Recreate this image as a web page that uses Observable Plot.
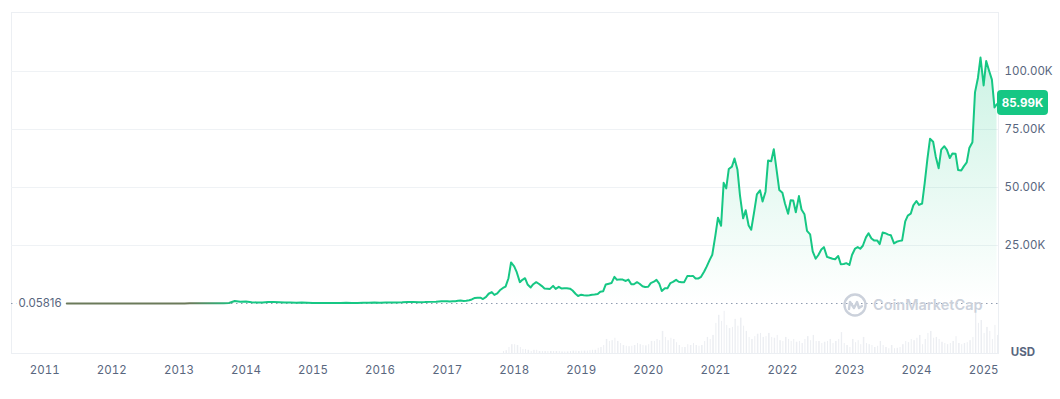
<!DOCTYPE html>
<html><head><meta charset="utf-8">
<script src="https://cdn.jsdelivr.net/npm/d3@7"></script>
<script src="https://cdn.jsdelivr.net/npm/@observablehq/plot@0.6"></script>
<style>
body{margin:0;background:#fff;font-family:Inter,"Noto Sans",sans-serif;}
#wrap{position:relative;width:1060px;height:399px;}
#wrap svg{position:absolute;left:0;top:0;background:transparent;}
</style></head><body><div id="wrap"></div>
<script>
// ---- data ----
const startPrice = 0.05816;
const yearTicks = [2011,2012,2013,2014,2015,2016,2017,2018,2019,2020,2021,2022,2023,2024,2025];
const yTicks = [25000, 50000, 75000, 100000];

// monthly closes, May 2011 – Dec 2016
const monthlyStart = "2011-05-01";
const price2011 = [0.05816, 17, 14, 10, 5, 3.5, 3, 4.5];
const price2012 = [6, 5, 5, 5, 5, 6.5, 8.5, 11, 12, 11, 12, 13.5];
const price2013 = [14, 30, 90, 120, 120, 100, 95, 120, 130, 200, 1100, 750];
const price2014 = [850, 550, 460, 450, 620, 640, 590, 480, 390, 340, 380, 320];
const price2015 = [220, 250, 245, 235, 230, 260, 285, 230, 236, 315, 360, 430];
const price2016 = [370, 437, 416, 450, 530, 670, 625, 575, 610, 700, 740, 960];

// half-monthly closes (1st and 15th), Jan 2017 – Mar 2025
const semiStart = "2017-01-01";
const price2017 = [1000, 820, 970, 1010, 1190, 1250, 1080, 1180, 1420, 1750, 2400, 2450, 2500, 1930, 2880, 4200, 4900, 3700, 4400, 5700, 6700, 7300, 10900, 17700];
const price2018 = [16000, 13500, 9200, 10200, 10900, 8200, 6900, 8300, 9200, 8500, 7500, 6500, 6400, 6300, 7600, 6300, 7200, 6500, 6600, 6600, 6400, 5600, 4200, 3250];
const price2019 = [3800, 3600, 3450, 3600, 3800, 3900, 4100, 5100, 5300, 8200, 8550, 8800, 11500, 10200, 10400, 10300, 9700, 10300, 8300, 8300, 9200, 8500, 7400, 7100];
const price2020 = [7200, 8800, 9400, 10200, 8600, 5400, 6600, 6600, 8800, 9300, 10200, 9400, 9200, 9200, 11800, 11800, 11900, 10800, 10800, 11500, 13800, 16000, 18800, 21000];
const price2021 = [29400, 37000, 33500, 52000, 49600, 58000, 59000, 62500, 57800, 46500, 36700, 40200, 33600, 31800, 39900, 47000, 48800, 44000, 48200, 61600, 61300, 66500, 57200, 48900];
const price2022 = [47700, 43100, 38700, 44500, 44400, 39300, 46300, 40500, 38500, 31300, 29800, 22500, 19300, 20800, 23300, 24300, 20100, 19700, 19300, 19100, 20500, 16900, 17000, 17400];
const price2023 = [16600, 20900, 23700, 24300, 23600, 24900, 28500, 30300, 28000, 27200, 27200, 25600, 30600, 30300, 29700, 29400, 25900, 26600, 27000, 27200, 35400, 37900, 38700, 42300];
const price2024 = [44200, 42500, 43100, 51900, 62400, 71000, 69700, 63400, 58300, 66300, 67800, 66200, 62700, 64700, 64600, 57500, 57300, 59100, 60800, 67000, 69500, 91000, 97200, 106000];
const price2025 = [94000, 104500, 100000, 96500, 84500, 85990];

// half-monthly volume (billions USD), Nov 2017 – Mar 2025
const volumeStart = "2017-11-01";
const vol2017 = [5, 7, 15, 22];
const vol2018 = [22, 20, 15, 10, 10, 8, 5, 8, 8, 5, 5, 5, 5, 5, 5, 5, 5, 4, 4, 4, 5, 6, 6, 5];
const vol2019 = [6, 6, 6, 7, 8, 8, 13, 15, 20, 35, 30, 32, 38, 30, 25, 20, 18, 17, 18, 20, 25, 22, 20, 19];
const vol2020 = [22, 30, 30, 35, 32, 55, 40, 32, 38, 35, 27, 20, 15, 15, 22, 20, 25, 20, 18, 20, 30, 40, 35, 45];
const vol2021 = [75, 95, 80, 105, 70, 62, 65, 85, 68, 88, 68, 55, 40, 35, 42, 48, 50, 40, 42, 50, 40, 38, 45, 32];
const vol2022 = [30, 40, 35, 30, 35, 28, 30, 25, 35, 42, 32, 45, 30, 30, 25, 28, 30, 35, 25, 30, 35, 52, 25, 20];
const vol2023 = [15, 35, 27, 32, 22, 40, 25, 22, 20, 15, 18, 30, 20, 15, 12, 20, 12, 13, 15, 22, 30, 27, 35, 32];
const vol2024 = [38, 45, 22, 35, 50, 55, 38, 40, 35, 28, 25, 22, 25, 30, 42, 25, 22, 25, 27, 32, 40, 100, 75, 82];
const vol2025 = [50, 65, 55, 35, 70, 45];

// ---- build tables ----
const semiDate = (start, i) => {
  const m = d3.utcMonth.offset(new Date(start), Math.floor(i / 2));
  return i % 2 ? d3.utcDay.offset(m, 14) : m;
};
const monthly = [].concat(price2011, price2012, price2013, price2014, price2015, price2016)
  .map((p, i) => ({date: d3.utcMonth.offset(new Date(monthlyStart), i), price: p}));
const semi = [].concat(price2017, price2018, price2019, price2020, price2021, price2022, price2023, price2024, price2025)
  .map((p, i) => ({date: semiDate(semiStart, i), price: p}));
const data = monthly.concat(semi);
const volAll = [].concat(vol2017, vol2018, vol2019, vol2020, vol2021, vol2022, vol2023, vol2024, vol2025);
const volData = volAll.map((v, i) => ({date: semiDate(volumeStart, i), end: semiDate(volumeStart, i + 1), v}));
const lastPrice = data[data.length - 1].price;

const W = 1060, H = 399, mT = 12, mB = 46, mL = 11, mR = 62;
const xDomain = [new Date("2010-07-04"), new Date("2025-03-23")];
const yDomain = [-21552, 125431];
const GREEN = "#16c784";
const FONT = "Inter, 'Noto Sans', sans-serif";
const fmtK = d => (d / 1000).toFixed(2) + "K";

const vol = Plot.plot({
  width: W, height: H, marginTop: 308, marginBottom: mB, marginLeft: mL, marginRight: mR,
  style: {background: "transparent"},
  x: {type: "utc", domain: xDomain, axis: null},
  y: {domain: [0, 112], axis: null},
  marks: [
    Plot.rectY(volData, {x1: "date", x2: "end", y: "v", fill: "#eceef2", insetLeft: 0.5, insetRight: 1.1})
  ]
});

const price = Plot.plot({
  width: W, height: H, marginTop: mT, marginBottom: mB, marginLeft: mL, marginRight: mR,
  style: {background: "transparent", color: "#58667e", fontFamily: FONT, fontSize: "11.5px"},
  x: {type: "utc", domain: xDomain, ticks: yearTicks.map(y => new Date(Date.UTC(y, 0, 1))),
      tickFormat: d3.utcFormat("%Y"), tickSize: 0, tickPadding: 12, label: null},
  y: {domain: yDomain, axis: "right", ticks: yTicks, tickSize: 0, tickPadding: 6, tickFormat: fmtK, label: null},
  marks: [
    Plot.frame({stroke: "#eceff3"}),
    Plot.ruleY(yTicks, {stroke: "#eff2f5"}),
    Plot.areaY(data, {x: "date", y: "price", fill: "url(#areaGrad)"}),
    Plot.ruleY([startPrice], {stroke: "#8f9bb0", strokeDasharray: "1.5,3.5"}),
    Plot.text([startPrice], {frameAnchor: "left", y: d => d, text: d => String(d), textAnchor: "start", dx: 7,
      fill: "#58667e", stroke: "white", strokeWidth: 6, fontSize: 11.5}),
    Plot.lineY(data, {x: "date", y: "price", stroke: "url(#lineGrad)", strokeWidth: 2})
  ]
});

const wrap = document.getElementById("wrap");
wrap.appendChild(vol);
wrap.appendChild(price);

// gradients and decorations, positioned through Plot's scales
const sx = price.scale("x"), sy = price.scale("y");
const svg = d3.select(price);
const defs = svg.insert("defs", ":first-child");
const lg = defs.append("linearGradient").attr("id", "lineGrad").attr("gradientUnits", "userSpaceOnUse")
  .attr("x1", sx.apply(new Date("2013-03-01"))).attr("x2", sx.apply(new Date("2013-11-15"))).attr("y1", 0).attr("y2", 0);
lg.append("stop").attr("offset", 0).attr("stop-color", "#6b7a5a");
lg.append("stop").attr("offset", 1).attr("stop-color", GREEN);
const ag = defs.append("linearGradient").attr("id", "areaGrad").attr("gradientUnits", "userSpaceOnUse")
  .attr("x1", 0).attr("x2", 0).attr("y1", sy.apply(108000)).attr("y2", sy.apply(0));
ag.append("stop").attr("offset", 0).attr("stop-color", GREEN).attr("stop-opacity", 0.22);
ag.append("stop").attr("offset", 1).attr("stop-color", GREEN).attr("stop-opacity", 0.0);

// watermark
const WM = "#cbd1db";
const wm = svg.append("g").attr("fill", "none").attr("stroke", WM).attr("stroke-width", 2.4)
  .attr("stroke-linecap", "round").attr("stroke-linejoin", "round");
const cx = W - mR - 143, cy = sy.apply(startPrice) + 2;
wm.append("circle").attr("cx", cx).attr("cy", cy).attr("r", 10.5);
wm.append("path").attr("d", `M${cx-6},${cy+4} L${cx-5},${cy-3} L${cx-1},${cy+3} L${cx+2},${cy-3} L${cx+4},${cy+3} L${cx+7},${cy+1}`);
svg.append("text").attr("x", cx + 18).attr("y", cy).attr("dy", "0.35em").attr("fill", WM).attr("text-anchor", "start")
  .attr("font-size", 14.5).attr("font-weight", 600).attr("font-family", FONT).text("CoinMarketCap");

// current price badge
const yy = sy.apply(lastPrice) - 1;
const bx = W - mR - 1;
svg.append("rect").attr("x", bx).attr("y", yy - 12.5).attr("width", 51).attr("height", 25).attr("rx", 4).attr("fill", GREEN);
svg.append("text").attr("x", bx + 25.5).attr("y", yy).attr("dy", "0.35em").attr("text-anchor", "middle")
  .attr("fill", "white").attr("font-weight", 700).attr("font-size", 11.5).attr("font-family", FONT).text(fmtK(lastPrice));

// currency label
svg.append("text").attr("x", bx + 26).attr("y", H - mB - 1).attr("dy", "0.35em").attr("text-anchor", "middle")
  .attr("fill", "#58667e").attr("font-weight", 700).attr("font-size", 11.5).attr("font-family", FONT).text("USD");
</script></body></html>
